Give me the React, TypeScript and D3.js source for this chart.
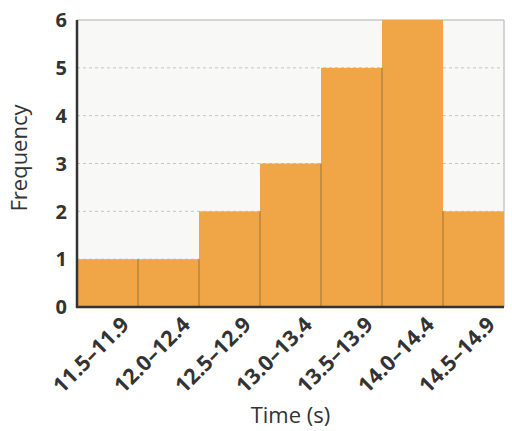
import React from "react";
import * as d3 from "d3";

const categories = ["11.5–11.9", "12.0–12.4", "12.5–12.9", "13.0–13.4", "13.5–13.9", "14.0–14.4", "14.5–14.9"];
const frequencies = [1, 1, 2, 3, 5, 6, 2];
const yTicks = [0, 1, 2, 3, 4, 5, 6];

const W = 512, H = 431;
const M = { left: 77, right: 8, top: 20, bottom: 124 };

export default function App() {
  const x = d3.scaleBand<string>().domain(categories).range([M.left, W - M.right]).padding(0);
  const y = d3.scaleLinear().domain([0, 6]).range([H - M.bottom, M.top]);
  const bw = x.bandwidth();
  const font = "'Open Sans', 'Noto Sans', sans-serif";
  const y0 = y(0);
  return (
    <svg width={W} height={H} style={{ position: "absolute", left: 0, top: 0 }}>
      <rect x={M.left} y={y(6)} width={W - M.right - M.left} height={y0 - y(6)} fill="#f8f8f6" />
      {yTicks.filter(t => t > 0 && t < 6).map(t => (
        <line key={t} x1={M.left} x2={W - M.right} y1={y(t)} y2={y(t)} stroke="#c4c4c4" strokeWidth={1} strokeDasharray="3,3" />
      ))}
      <line x1={M.left} x2={W - M.right} y1={y(6)} y2={y(6)} stroke="#c8c8c8" strokeWidth={1.5} />
      <line x1={W - M.right} x2={W - M.right} y1={y(6)} y2={y0} stroke="#c8c8c8" strokeWidth={1.5} />
      {categories.map((c, i) => (
        <rect key={c} x={x(c)!} y={y(frequencies[i])} width={bw} height={y0 - y(frequencies[i])} fill="#f0a647" />
      ))}
      {categories.slice(1).map((c, i) => {
        const h = Math.min(frequencies[i], frequencies[i + 1]);
        return <line key={c} x1={x(c)!} x2={x(c)!} y1={y(h)} y2={y0} stroke="#b8843a" strokeWidth={1.5} />;
      })}
      <line x1={M.left} x2={M.left} y1={y(6)} y2={y0 + 1} stroke="#333" strokeWidth={2.5} />
      <line x1={M.left - 1} x2={W - M.right} y1={y0} y2={y0} stroke="#333" strokeWidth={2.5} />
      {yTicks.map(t => (
        <text key={t} x={67} y={y(t)} dy="0.36em" textAnchor="end" fontFamily={font} fontWeight="bold" fontSize={20} fill="#333">{t}</text>
      ))}
      {categories.map(c => (
        <text key={c} transform={`translate(${x(c)! + bw / 2 + 23},${y0 + 19}) rotate(-45)`} textAnchor="end" fontFamily={font} fontWeight="bold" fontSize={21.5} fill="#333">{c}</text>
      ))}
      <text x={(M.left + W - M.right) / 2} y={423} textAnchor="middle" fontFamily={font} fontSize={22} fill="#333">Time (s)</text>
      <text transform={`translate(27,158) rotate(-90)`} textAnchor="middle" fontFamily={font} fontSize={22} fill="#333">Frequency</text>
    </svg>
  );
}
